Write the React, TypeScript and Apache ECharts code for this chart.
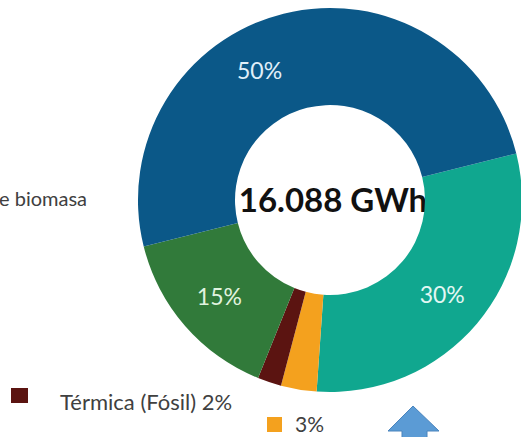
import React, { useEffect, useRef } from "react";
import * as echarts from "echarts";

const sliceNames = ["Eólica y solar", "Otras", "Térmica (Fósil)", "Térmica de biomasa", "Hidráulica"];
const sliceValues = [30, 3, 2, 15, 50];
const sliceColors = ["#10a78f", "#f4a11e", "#5b1411", "#317a3a", "#0b5888"];
const labelColors = ["#e2f7f3", "#ffffff", "#ffffff", "#e0f3df", "#e0eff9"];
const showInsideLabel = [true, false, false, true, true];
const totalText = "16.088 GWh";
const leftText = "e biomasa";
const fossilText = "Térmica (Fósil) 2%";
const otherText = "3%";

export default function App() {
  const ref = useRef<HTMLDivElement>(null);
  useEffect(() => {
    if (!ref.current) return;
    const chart = echarts.init(ref.current, null, { renderer: "svg" });
    const font = "Lato, 'Open Sans', sans-serif";
    chart.setOption({
      animation: false,
      backgroundColor: "#ffffff",
      series: [
        {
          type: "pie",
          center: [330, 200],
          radius: [95, 192],
          startAngle: 14,
          clockwise: true,
          avoidLabelOverlap: false,
          silent: true,
          itemStyle: { borderWidth: 0 },
          label: {
            show: true,
            position: "inside",
            formatter: "{c}%",
            fontFamily: font,
            fontSize: 23,
          },
          labelLine: { show: false },
          labelLayout: (p: any) => (p.dataIndex === 4 ? { dx: -35, dy: 12 } : {}),
          data: sliceValues.map((v, i) => ({
            name: sliceNames[i],
            value: v,
            itemStyle: { color: sliceColors[i] },
            label: { show: showInsideLabel[i], color: labelColors[i] },
          })),
        },
      ],
      graphic: [
        {
          type: "text",
          x: 333,
          y: 199,
          style: {
            text: totalText,
            align: "center",
            verticalAlign: "middle",
            font: `bold 33px ${font}`,
            fill: "#111111",
          },
        },
        {
          type: "text",
          x: -1,
          y: 198,
          style: {
            text: leftText,
            align: "left",
            verticalAlign: "middle",
            font: `20px ${font}`,
            fill: "#404040",
          },
        },
        {
          type: "rect",
          shape: { x: 11, y: 388, width: 17, height: 15 },
          style: { fill: sliceColors[2] },
        },
        {
          type: "text",
          x: 60,
          y: 401,
          style: {
            text: fossilText,
            align: "left",
            verticalAlign: "middle",
            font: `22px ${font}`,
            fill: "#404040",
          },
        },
        {
          type: "rect",
          shape: { x: 267, y: 417, width: 15, height: 15 },
          style: { fill: sliceColors[1] },
        },
        {
          type: "text",
          x: 295,
          y: 423,
          style: {
            text: otherText,
            align: "left",
            verticalAlign: "middle",
            font: `21px ${font}`,
            fill: "#404040",
          },
        },
        {
          type: "polygon",
          shape: {
            points: [
              [413, 406],
              [439, 431],
              [427, 431],
              [427, 440],
              [402, 440],
              [402, 431],
              [388, 431],
            ],
          },
          style: { fill: "#5b9bd5", stroke: "#4a84bd", lineWidth: 1 },
        },
      ],
    });
    return () => chart.dispose();
  }, []);
  return (
    <div
      ref={ref}
      style={{ position: "fixed", left: 0, top: 0, width: 521, height: 437 }}
    />
  );
}
